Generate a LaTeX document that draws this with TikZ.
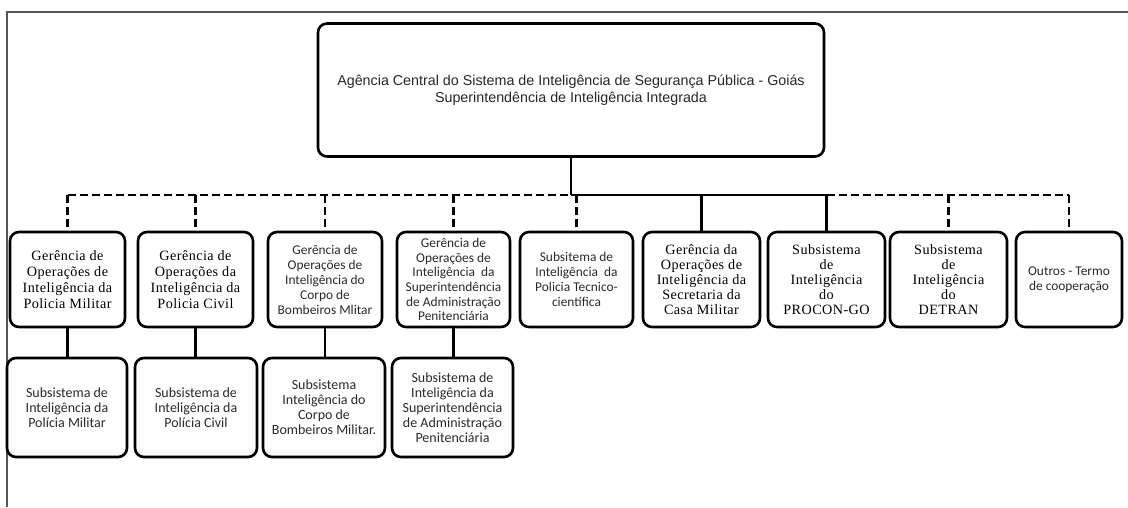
\documentclass[tikz,border=0pt]{standalone}
\usepackage{fontspec}
\setmainfont{Liberation Serif}
\newfontfamily\serifsp[LetterSpace=3]{Liberation Serif}
\newfontfamily\calfont{Carlito}
\newfontfamily\arialfont{Liberation Sans}
\definecolor{framegray}{HTML}{555555}
\definecolor{caltext}{HTML}{2a2a2a}
\begin{document}
\begin{tikzpicture}[x=1pt,y=-1pt,
  box/.style={draw=black, line width=2.6pt, rounded corners=9pt, align=center, inner sep=0pt},
  serifbox/.style={box, font=\serifsp\fontsize{14.2}{16}\selectfont},
  serifboxb/.style={box, font=\serifsp\fontsize{14.2}{15}\selectfont},
  calbox/.style={box, text=caltext, font=\calfont\fontsize{13.4}{15}\selectfont},
  calboxb/.style={box, text=caltext, font=\calfont\fontsize{13.4}{14.7}\selectfont},
  calboxc/.style={box, text=caltext, font=\calfont\fontsize{14}{15}\selectfont},
  solidline/.style={line width=2.4pt},
  dashline/.style={line width=2.4pt, dash pattern=on 8pt off 4pt}]
\useasboundingbox (0,0) rectangle (1128,507);
% frame
\draw[framegray, line width=2pt] (7,507) -- (7,12) -- (1128,12);
% top box
\node[box, minimum width=506pt, minimum height=133pt, text=black!85,
  font=\arialfont\fontsize{14.3}{17}\selectfont] (top) at (571,90)
  {Agência Central do Sistema de Inteligência de Segurança Pública - Goiás\\Superintendência de Inteligência Integrada};
% row 1
\node[serifbox, minimum width=115pt, minimum height=95pt] (a1) at (67.5,279.5)
  {Gerência de\\Operações de\\Inteligência da\\Policia Militar};
\node[serifbox, minimum width=115pt, minimum height=95pt] (a2) at (195.5,279.5)
  {Gerência de\\Operações da\\Inteligência da\\Policia Civil};
\node[calbox, minimum width=114pt, minimum height=95pt] (a3) at (325,279.5)
  {Gerência de\\Operações de\\Inteligência do\\Corpo de\\Bombeiros Mlitar};
\node[calboxb, minimum width=113pt, minimum height=95pt] (a4) at (453.5,279.5)
  {Gerência de\\Operações de\\Inteligência\ \ da\\Superintendência\\de Administração\\Penitenciária};
\node[calbox, minimum width=113pt, minimum height=95pt] (a5) at (576.5,279.5)
  {Subsitema de\\Inteligência\ \ da\\Policia Tecnico-\\científica};
\node[serifboxb, minimum width=117pt, minimum height=95pt] (a6) at (701.5,279.5)
  {Gerência da\\Operações de\\Inteligência da\\Secretaria da\\Casa Militar};
\node[serifboxb, minimum width=117pt, minimum height=95pt] (a7) at (826.5,279.5)
  {Subsistema\\de\\Inteligência\\do\\PROCON-GO};
\node[serifboxb, minimum width=117pt, minimum height=95pt] (a8) at (948.5,279.5)
  {Subsistema\\de\\Inteligência\\do\\DETRAN};
\node[calbox, minimum width=106pt, minimum height=95pt] (a9) at (1069,279.5)
  {Outros - Termo\\de cooperação};
% row 2
\node[calboxc, minimum width=120pt, minimum height=99pt] (b1) at (67,407.5)
  {Subsistema de\\Inteligência da\\Polícia Militar};
\node[calboxc, minimum width=122pt, minimum height=99pt] (b2) at (196,407.5)
  {Subsistema de\\Inteligência da\\Polícia Civil};
\node[calboxc, minimum width=122pt, minimum height=99pt] (b3) at (324,407.5)
  {Subsistema\\Inteligência do\\Corpo de\\Bombeiros Militar.};
\node[calboxc, minimum width=121pt, minimum height=99pt] (b4) at (452.5,407.5)
  {Subsistema de\\Inteligência da\\Superintendência\\de Administração\\Penitenciária};
% connectors
\coordinate (bus) at (572,195);
\draw[solidline] (top.south) -- (top.south |- bus);
\draw[dashline] (a1.north |- bus) -- (top.south |- bus);
\draw[solidline] (top.south |- bus) -- (a7.north |- bus);
\draw[dashline] (a7.north |- bus) -- (a9.north |- bus);
\foreach \n in {a1,a2,a3,a4,a5,a8,a9}
  \draw[dashline] (\n.north |- bus) -- (\n.north);
\foreach \n in {a6,a7}
  \draw[solidline] (\n.north |- bus) -- (\n.north);
\draw[solidline] (a1.south) -- (b1.north -| a1.south);
\draw[solidline] (a2.south) -- (b2.north -| a2.south);
\draw[solidline] (a3.south) -- (b3.north -| a3.south);
\draw[solidline] (a4.south) -- (b4.north -| a4.south);
\end{tikzpicture}
\end{document}
